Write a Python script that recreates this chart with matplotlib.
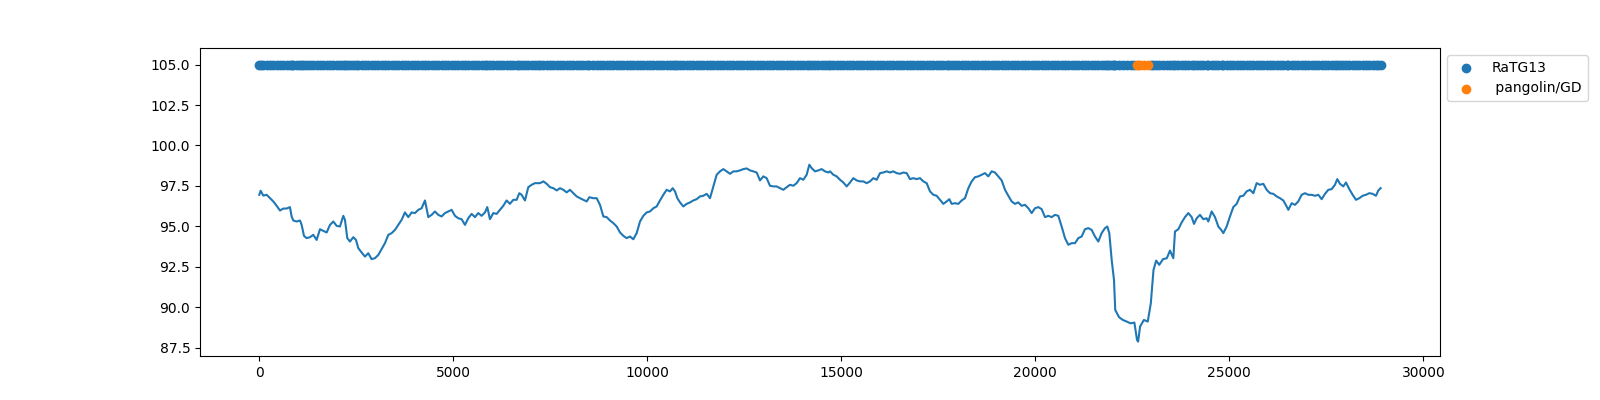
import matplotlib
matplotlib.use("Agg")
import matplotlib.pyplot as plt

# window position (bp) and identity (%)
pos = [0, 35, 104, 190, 275, 361, 447, 533, 619, 705, 791, 834, 877, 963, 1049,
       1091, 1152, 1220, 1306, 1392, 1478, 1564, 1650, 1736, 1822, 1908, 1993,
       2079, 2165, 2208, 2268, 2337, 2423, 2492, 2552, 2638, 2724, 2809, 2895,
       2981, 3067, 3153, 3239, 3325, 3411, 3497, 3583, 3668, 3754, 3840, 3926,
       4012, 4098, 4184, 4270, 4356, 4442, 4527, 4613, 4699, 4785, 4871, 4957,
       5043, 5129, 5215, 5301, 5386, 5472, 5558, 5644, 5730, 5816, 5876, 5945,
       6031, 6117, 6203, 6288, 6374, 6460, 6546, 6632, 6701, 6761, 6847, 6933,
       7019, 7105, 7190,
       7235, 7321, 7407, 7493, 7579, 7665, 7750, 7836, 7922, 8008, 8094, 8180,
       8266, 8352, 8438, 8506, 8609, 8695, 8781, 8867, 8953, 9039, 9125, 9211,
       9297, 9383, 9468, 9554, 9640, 9726, 9812, 9898, 9984, 10070, 10156,
       10242, 10327, 10413, 10499, 10585, 10654, 10714, 10774, 10843, 10929,
       11015, 11101, 11186, 11272, 11358, 11444, 11530, 11616, 11702, 11788,
       11874, 11960, 12045, 12131, 12217, 12303, 12389, 12475, 12561, 12647,
       12733, 12819, 12904, 12990, 13076, 13162, 13248, 13334, 13420, 13506,
       13592, 13678, 13763, 13849, 13935, 14021, 14107, 14176, 14236, 14322,
       14408, 14494, 14580, 14665,
       14709, 14795, 14881, 14967, 15053, 15139, 15224, 15310, 15396, 15482,
       15568, 15654, 15740, 15826, 15912, 15998, 16083, 16169, 16255, 16341,
       16427, 16513, 16599, 16685, 16771, 16857, 16942, 17028, 17114, 17200,
       17286, 17372, 17458, 17544, 17630, 17716, 17784, 17844, 17930, 18016,
       18102, 18188, 18274, 18360, 18446, 18532, 18617, 18703, 18789, 18875,
       18961, 19047, 19133, 19219, 19305, 19391, 19476, 19562, 19648, 19734,
       19820, 19906, 19992, 20078, 20164, 20250, 20335, 20421, 20507, 20593,
       20679, 20765, 20851, 20937, 21023, 21109, 21194, 21280, 21366, 21452,
       21538, 21624, 21710, 21796, 21856, 21907, 21968, 22028,
       22060, 22158, 22256, 22355, 22454, 22553, 22622, 22650, 22700, 22799,
       22898, 22977, 23046, 23115, 23194, 23292, 23390, 23471, 23557, 23600,
       23686, 23772, 23858, 23944, 24030, 24090, 24159, 24244, 24330, 24416,
       24459, 24545, 24631, 24717, 24803, 24846, 24932, 25017, 25103, 25189,
       25275, 25361, 25447, 25533, 25619, 25705, 25791, 25877, 25963, 26049,
       26134, 26220, 26306, 26392, 26478, 26521, 26607, 26693, 26778, 26864,
       26950, 27036, 27122, 27208, 27294, 27380, 27466, 27552, 27637, 27723,
       27783, 27852, 27938, 28007, 28093, 28179, 28264, 28350, 28436, 28522,
       28608, 28694, 28780, 28840, 28900]

ident = [96.95, 97.2, 96.9, 96.95, 96.75, 96.54, 96.27, 95.98, 96.1, 96.1, 96.19,
         95.6, 95.36, 95.3, 95.36, 95.1, 94.41, 94.27, 94.33, 94.47, 94.16, 94.82,
         94.72, 94.62, 95.09, 95.3, 95.03, 94.99, 95.65, 95.4, 94.27, 94.06, 94.33,
         94.16, 93.65, 93.38, 93.13, 93.34, 92.97, 93.03, 93.23, 93.59, 93.96,
         94.47, 94.58, 94.78, 95.09, 95.4, 95.86, 95.57, 95.86, 95.82, 96.02,
         96.12, 96.6, 95.57, 95.71, 95.92, 95.71, 95.61, 95.82, 95.92, 96.02,
         95.65, 95.5, 95.44, 95.09, 95.5, 95.77, 95.57, 95.82, 95.65, 95.86,
         96.19, 95.44, 95.82, 95.77, 96.02, 96.27, 96.6, 96.39, 96.64, 96.64,
         97.05, 96.95, 96.6, 97.42, 97.57, 97.67, 97.67,
         97.67, 97.78, 97.63, 97.42, 97.36, 97.22, 97.36, 97.26, 97.1, 97.26,
         97.05, 96.85, 96.74, 96.64, 96.54, 96.8, 96.74, 96.74, 96.33, 95.61,
         95.57, 95.36, 95.2, 94.99, 94.62, 94.41, 94.27, 94.37, 94.2, 94.58,
         95.3, 95.65, 95.86, 95.92, 96.12, 96.23, 96.6, 96.95, 97.26, 97.16,
         97.36, 97.16, 96.74, 96.48, 96.23, 96.39, 96.48, 96.6, 96.68, 96.85,
         96.89, 97.01, 96.74, 97.47, 98.19, 98.4, 98.54, 98.4, 98.25, 98.4,
         98.4, 98.46, 98.54, 98.58, 98.46, 98.4, 98.33, 97.84, 98.09, 97.98,
         97.51, 97.47, 97.47, 97.36, 97.26, 97.42, 97.57, 97.51, 97.67, 97.98,
         97.88, 98.19, 98.81, 98.6, 98.4, 98.46, 98.54, 98.4, 98.33,
         98.4, 98.19, 98.09, 97.88, 97.71, 97.47, 97.71, 97.98, 97.84, 97.78,
         97.78, 97.67, 97.78, 97.98, 97.88, 98.29, 98.33, 98.4, 98.33, 98.4,
         98.29, 98.25, 98.33, 98.29, 97.92, 97.98, 97.92, 97.98, 97.78, 97.67,
         97.16, 96.95, 96.89, 96.64, 96.39, 96.54, 96.68, 96.39, 96.43, 96.39,
         96.6, 96.74, 97.36, 97.78, 98.04, 98.09, 98.19, 98.29, 98.09, 98.4,
         98.33, 98.09, 97.84, 97.26, 96.89, 96.54, 96.39, 96.48, 96.27, 96.33,
         96.12, 95.82, 96.12, 96.19, 96.06, 95.57, 95.65, 95.57, 95.71, 95.65,
         94.99, 94.27, 93.86, 93.96, 93.96, 94.27, 94.37, 94.82, 94.89, 94.78,
         94.37, 94.06, 94.58, 94.89, 94.99, 94.58, 92.93, 91.69,
         89.83, 89.38, 89.21, 89.11, 89.0, 89.05, 87.97, 87.87, 88.8, 89.21,
         89.11, 90.24, 92.3, 92.88, 92.62, 92.97, 93.03, 93.5, 93.03, 94.68,
         94.82, 95.24, 95.57, 95.82, 95.57, 95.15, 95.5, 95.71, 95.44, 95.5,
         95.3, 95.92, 95.57, 94.99, 94.74, 94.58, 94.99, 95.61, 96.19, 96.39,
         96.85, 96.89, 97.16, 97.26, 97.05, 97.67, 97.57, 97.63, 97.26, 97.05,
         97.01, 96.85, 96.74, 96.6, 96.23, 96.02, 96.43, 96.33, 96.54, 96.95,
         97.05, 96.95, 96.95, 96.89, 96.95, 96.68, 97.01, 97.26, 97.3, 97.57,
         97.92, 97.63, 97.47, 97.71, 97.3, 96.95, 96.64, 96.74, 96.89, 96.95,
         97.05, 97.01, 96.89, 97.22, 97.36]

# best hit per window: pangolin/GD only in this stretch, RaTG13 elsewhere
gd_region = (22600, 22920)
track_y = 105

ratg13_x = [p for p in pos if not (gd_region[0] <= p <= gd_region[1])]
gd_x = [p for p in pos if gd_region[0] <= p <= gd_region[1]]

fig, ax = plt.subplots(figsize=(16, 4), dpi=100)
ax.plot(pos, ident)
ax.scatter(ratg13_x, [track_y] * len(ratg13_x), label="RaTG13")
ax.scatter(gd_x, [track_y] * len(gd_x), label=" pangolin/GD")
ax.set_xlim(-1528, 30430)
ax.set_ylim(86.98, 106.03)
ax.legend(loc="upper left", bbox_to_anchor=(1, 1))
fig.savefig("out.png")
